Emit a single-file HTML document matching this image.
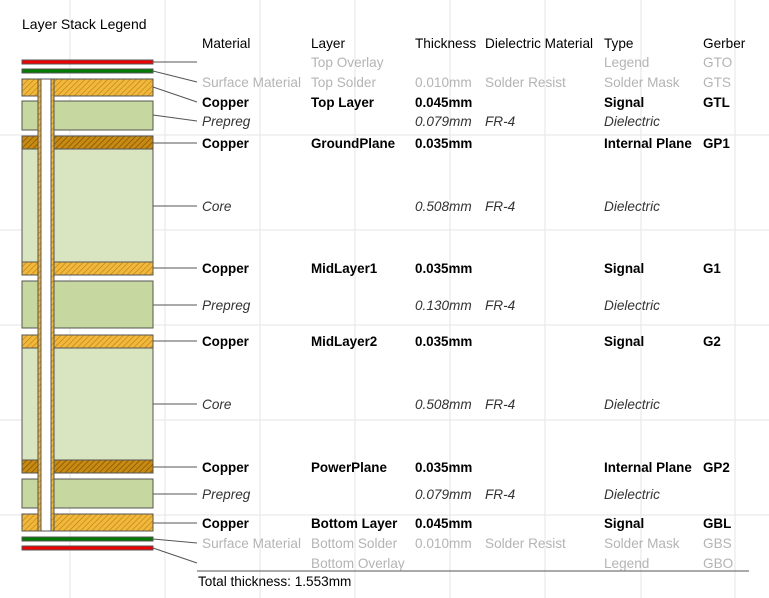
<!DOCTYPE html>
<html><head><meta charset="utf-8"><style>
html,body{margin:0;padding:0;background:#fff}
svg{display:block}
text{font-family:"Liberation Sans",Arial,sans-serif;font-size:13.6px;fill:#000}
.g text{fill:#b4b4b4}.b text{font-weight:bold;font-size:13.4px}.i text{font-style:italic;fill:#333}
</style></head><body>
<svg width="769" height="598" viewBox="0 0 769 598" xmlns="http://www.w3.org/2000/svg">
<defs>
<pattern id="hl" width="4" height="4" patternUnits="userSpaceOnUse" patternTransform="rotate(45)">
<rect width="4" height="4" fill="#f2b83c"/><line x1="0" y1="0" x2="0" y2="4" stroke="#b57d10" stroke-width="1.2"/></pattern>
<pattern id="hd" width="4" height="4" patternUnits="userSpaceOnUse" patternTransform="rotate(45)">
<rect width="4" height="4" fill="#c88a12"/><line x1="0" y1="0" x2="0" y2="4" stroke="#7a5000" stroke-width="1.4"/></pattern>
</defs>
<g stroke="#e6e6e6" stroke-width="1">
<line x1="70" y1="0" x2="70" y2="598"/><line x1="165" y1="0" x2="165" y2="598"/><line x1="260" y1="0" x2="260" y2="598"/><line x1="355" y1="0" x2="355" y2="598"/><line x1="450" y1="0" x2="450" y2="598"/><line x1="545" y1="0" x2="545" y2="598"/><line x1="641" y1="0" x2="641" y2="598"/><line x1="735" y1="0" x2="735" y2="598"/>
<line x1="0" y1="135" x2="769" y2="135"/><line x1="0" y1="230" x2="769" y2="230"/><line x1="0" y1="325" x2="769" y2="325"/><line x1="0" y1="420" x2="769" y2="420"/><line x1="0" y1="515" x2="769" y2="515"/>
</g>
<text x="22" y="29" style="font-size:14px">Layer Stack Legend</text>
<g stroke="#555" stroke-width="1">
<rect x="22" y="60" width="131" height="4" fill="#f00000"/>
<rect x="22" y="69" width="131" height="4" fill="#007a00"/>
<rect x="22" y="79" width="131" height="17" fill="url(#hl)"/>
<rect x="22" y="101" width="131" height="29" fill="#c6d7a0"/>
<rect x="22" y="136" width="131" height="13" fill="url(#hd)"/>
<rect x="22" y="149" width="131" height="113" fill="#d9e4c0"/>
<rect x="22" y="262" width="131" height="13" fill="url(#hl)"/>
<rect x="22" y="281" width="131" height="47" fill="#c6d7a0"/>
<rect x="22" y="335" width="131" height="13" fill="url(#hl)"/>
<rect x="22" y="348" width="131" height="112" fill="#d9e4c0"/>
<rect x="22" y="460" width="131" height="13" fill="url(#hd)"/>
<rect x="22" y="479" width="131" height="29" fill="#c6d7a0"/>
<rect x="22" y="514" width="131" height="17" fill="url(#hl)"/>
<rect x="22" y="537" width="131" height="4" fill="#007a00"/>
<rect x="22" y="546" width="131" height="4" fill="#f00000"/>
<rect x="38" y="79" width="16" height="452" fill="url(#hl)"/>
<rect x="41" y="79" width="10" height="452" fill="#fff"/>
</g>
<g stroke="#555" stroke-width="1" fill="none">
<line x1="153" y1="62" x2="197" y2="62"/>
<polyline points="153,71 197,82"/>
<polyline points="153,87 197,102"/>
<polyline points="153,115 197,121"/>
<line x1="153" y1="143" x2="197" y2="143"/>
<line x1="153" y1="206" x2="197" y2="206"/>
<line x1="153" y1="268" x2="197" y2="268"/>
<line x1="153" y1="305" x2="197" y2="305"/>
<line x1="153" y1="341" x2="197" y2="341"/>
<line x1="153" y1="404" x2="197" y2="404"/>
<line x1="153" y1="467" x2="197" y2="467"/>
<line x1="153" y1="494" x2="197" y2="494"/>
<line x1="153" y1="523" x2="197" y2="523"/>
<polyline points="153,539 197,543"/>
<polyline points="153,548 197,563"/>
<line x1="197" y1="571" x2="749" y2="571"/>
</g>
<text x="202" y="48">Material</text><text x="311" y="48">Layer</text><text x="415" y="48">Thickness</text><text x="485" y="48">Dielectric Material</text><text x="604" y="48">Type</text><text x="703" y="48">Gerber</text>
<g class="g"><text x="311" y="67">Top Overlay</text><text x="604" y="67">Legend</text><text x="703" y="67">GTO</text></g>
<g class="g"><text x="202" y="87">Surface Material</text><text x="311" y="87">Top Solder</text><text x="415" y="87">0.010mm</text><text x="485" y="87">Solder Resist</text><text x="604" y="87">Solder Mask</text><text x="703" y="87">GTS</text></g>
<g class="b"><text x="202" y="107">Copper</text><text x="311" y="107">Top Layer</text><text x="415" y="107">0.045mm</text><text x="604" y="107">Signal</text><text x="703" y="107">GTL</text></g>
<g class="i"><text x="202" y="126">Prepreg</text><text x="415" y="126">0.079mm</text><text x="485" y="126">FR-4</text><text x="604" y="126">Dielectric</text></g>
<g class="b"><text x="202" y="148">Copper</text><text x="311" y="148">GroundPlane</text><text x="415" y="148">0.035mm</text><text x="604" y="148">Internal Plane</text><text x="703" y="148">GP1</text></g>
<g class="i"><text x="202" y="211">Core</text><text x="415" y="211">0.508mm</text><text x="485" y="211">FR-4</text><text x="604" y="211">Dielectric</text></g>
<g class="b"><text x="202" y="273">Copper</text><text x="311" y="273">MidLayer1</text><text x="415" y="273">0.035mm</text><text x="604" y="273">Signal</text><text x="703" y="273">G1</text></g>
<g class="i"><text x="202" y="310">Prepreg</text><text x="415" y="310">0.130mm</text><text x="485" y="310">FR-4</text><text x="604" y="310">Dielectric</text></g>
<g class="b"><text x="202" y="346">Copper</text><text x="311" y="346">MidLayer2</text><text x="415" y="346">0.035mm</text><text x="604" y="346">Signal</text><text x="703" y="346">G2</text></g>
<g class="i"><text x="202" y="409">Core</text><text x="415" y="409">0.508mm</text><text x="485" y="409">FR-4</text><text x="604" y="409">Dielectric</text></g>
<g class="b"><text x="202" y="472">Copper</text><text x="311" y="472">PowerPlane</text><text x="415" y="472">0.035mm</text><text x="604" y="472">Internal Plane</text><text x="703" y="472">GP2</text></g>
<g class="i"><text x="202" y="499">Prepreg</text><text x="415" y="499">0.079mm</text><text x="485" y="499">FR-4</text><text x="604" y="499">Dielectric</text></g>
<g class="b"><text x="202" y="528">Copper</text><text x="311" y="528">Bottom Layer</text><text x="415" y="528">0.045mm</text><text x="604" y="528">Signal</text><text x="703" y="528">GBL</text></g>
<g class="g"><text x="202" y="548">Surface Material</text><text x="311" y="548">Bottom Solder</text><text x="415" y="548">0.010mm</text><text x="485" y="548">Solder Resist</text><text x="604" y="548">Solder Mask</text><text x="703" y="548">GBS</text></g>
<g class="g"><text x="311" y="568">Bottom Overlay</text><text x="604" y="568">Legend</text><text x="703" y="568">GBO</text></g>
<text x="198" y="586">Total thickness: 1.553mm</text>
</svg>
</body></html>
